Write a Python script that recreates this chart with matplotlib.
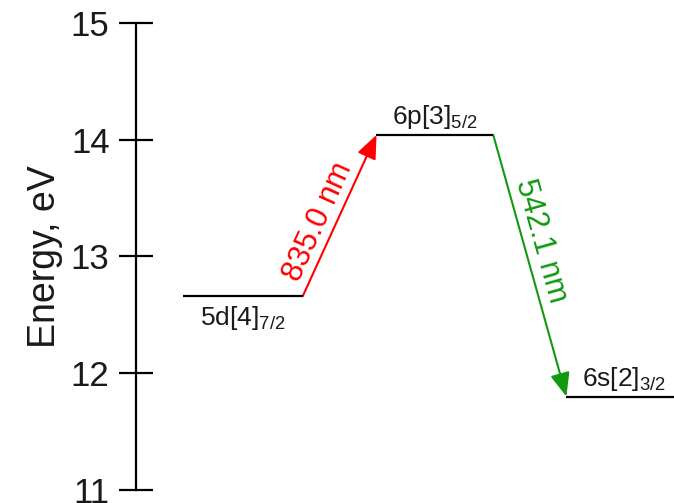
import matplotlib
matplotlib.use("Agg")
import matplotlib.pyplot as plt
from matplotlib.patches import FancyArrowPatch

plt.rcParams['font.family'] = ['Liberation Sans', 'DejaVu Sans']
plt.rcParams['mathtext.fontset'] = 'custom'
plt.rcParams['mathtext.rm'] = 'Liberation Sans'
plt.rcParams['mathtext.it'] = 'Liberation Sans'

# Data
level_names = [r'5d[4]$_{7/2}$', r'6p[3]$_{5/2}$', r'6s[2]$_{3/2}$']
level_energy = [12.66, 14.04, 11.80]
level_x0 = [0.087, 0.447, 0.800]
level_x1 = [0.310, 0.664, 1.000]
transitions = [(0, 1, '835.0 nm', '#ff0000'), (1, 2, '542.1 nm', '#119911')]
yticks = [11, 12, 13, 14, 15]

txtcol = '#1a1a1a'
fig = plt.figure(figsize=(6.74, 5.03), dpi=100)
ax = fig.add_axes([0.2018, 0.0258, 0.7982, 0.9291])
ax.set_xlim(0, 1)
ax.set_ylim(11, 15)
ax.set_yticks(yticks)
ax.set_xticks([])
for s in ['top', 'right', 'bottom']:
    ax.spines[s].set_visible(False)
ax.spines['left'].set_linewidth(1.6)
ax.tick_params(axis='y', direction='inout', length=24, width=1.6, labelsize=25, pad=7,
               labelcolor=txtcol)
ax.set_ylabel('Energy, eV', fontsize=27, labelpad=6, color=txtcol)

for i, (name, e, x0, x1) in enumerate(zip(level_names, level_energy, level_x0, level_x1)):
    ax.plot([x0, x1], [e, e], color='black', lw=1.6, solid_capstyle='butt')

# level labels
xc = [(a + b) / 2 for a, b in zip(level_x0, level_x1)]
ax.text(xc[0], level_energy[0] - 0.07, level_names[0], ha='center', va='top', fontsize=19, color=txtcol)
ax.text(xc[1], level_energy[1] + 0.03, level_names[1], ha='center', va='bottom', fontsize=19, color=txtcol)
ax.text(xc[2] + 0.007, level_energy[2] + 0.03, level_names[2], ha='center', va='bottom', fontsize=19, color=txtcol)

# transitions
label_pos = [(0.338, 13.30, 65.5), (0.753, 13.13, -74.3)]
for (a, b, lab, col), (tx, ty, rot) in zip(transitions, label_pos):
    start = (level_x1[a], level_energy[a])
    end = (level_x0[b], level_energy[b])
    arr = FancyArrowPatch(start, end, arrowstyle='-|>,head_length=1.45,head_width=0.6',
                          mutation_scale=10, color=col, lw=1.5, shrinkA=0, shrinkB=0)
    ax.add_patch(arr)
    ax.text(tx, ty, lab, color=col, fontsize=22, rotation=rot, ha='center', va='center',
            rotation_mode='anchor')

fig.savefig('out.png', dpi=100)
